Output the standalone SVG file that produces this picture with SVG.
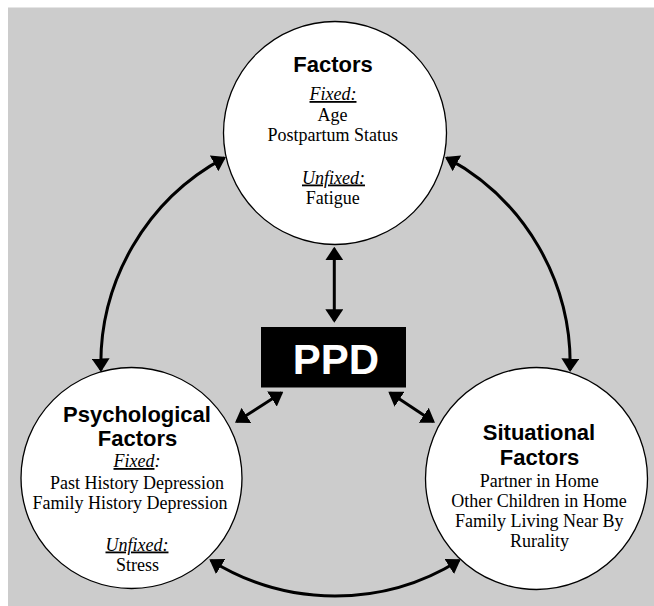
<svg xmlns="http://www.w3.org/2000/svg" width="654" height="606" viewBox="0 0 654 606">
<style>
.node{fill:#fff;stroke:#000;stroke-width:1.3}
.h{font-family:"Liberation Sans",Arial,sans-serif;font-weight:bold;font-size:22px;text-anchor:middle;fill:#000}
.t{font-family:"Liberation Serif","Times New Roman",serif;font-size:18px;text-anchor:middle;fill:#000}
.u{font-style:italic;text-decoration:underline}
.c{fill:none;stroke:#000;stroke-width:3;marker-start:url(#ah);marker-end:url(#ah)}
</style>
<defs>
<marker id="ah" viewBox="0 0 13.5 18" markerWidth="13.5" markerHeight="18" refX="11.5" refY="9" orient="auto-start-reverse" markerUnits="userSpaceOnUse">
<path d="M0,0 L13.5,9 L0,18 z" fill="#000"/>
</marker>
</defs>
<rect x="8" y="7.5" width="646" height="598.5" fill="#cccccc"/>
<g id="connectors">
<path class="c" d="M224.2 157.9 A234 234 0 0 0 100.9 370"/>
<path class="c" d="M446.8 157.9 A234 234 0 0 1 570.1 370"/>
<path class="c" d="M211 560.4 A234 234 0 0 0 459 560.4"/>
<path class="c" d="M334.3 248.7 L334.3 320.7"/>
<path class="c" d="M281.6 392.8 L236.7 421.6"/>
<path class="c" d="M390 392.8 L433.3 421.6"/>
</g>
<g id="factors">
<circle class="node" cx="335" cy="133" r="111.5"/>
<text class="h" x="333" y="72">Factors</text>
<text class="t u" x="333" y="100">Fixed:</text>
<text class="t" x="332.5" y="120.5">Age</text>
<text class="t" x="332.7" y="141">Postpartum Status</text>
<text class="t u" x="333.5" y="183.5">Unfixed:</text>
<text class="t" x="332.8" y="203.5">Fatigue</text>
</g>
<g id="ppd">
<rect x="261" y="327" width="145" height="60.5" fill="#000"/>
<text x="336" y="374" font-family="Liberation Sans,Arial,sans-serif" font-weight="bold" font-size="42" text-anchor="middle" fill="#fff">PPD</text>
</g>
<g id="psychological">
<circle class="node" cx="131.5" cy="478" r="110.5"/>
<text class="h" x="137" y="421.5">Psychological</text>
<text class="h" x="137.5" y="446">Factors</text>
<text class="t" x="137" y="467"><tspan class="u">Fixed</tspan><tspan font-style="italic">:</tspan></text>
<text class="t" x="137" y="488.5">Past History Depression</text>
<text class="t" x="130" y="508.5">Family History Depression</text>
<text class="t u" x="137" y="550.5">Unfixed:</text>
<text class="t" x="137.5" y="570.5">Stress</text>
</g>
<g id="situational">
<circle class="node" cx="536.5" cy="478.5" r="111"/>
<text class="h" x="539" y="440">Situational</text>
<text class="h" x="539.5" y="465">Factors</text>
<text class="t" x="539.3" y="486.5">Partner in Home</text>
<text class="t" x="539" y="506.5">Other Children in Home</text>
<text class="t" x="539.3" y="527">Family Living Near By</text>
<text class="t" x="539.5" y="547">Rurality</text>
</g>
</svg>
